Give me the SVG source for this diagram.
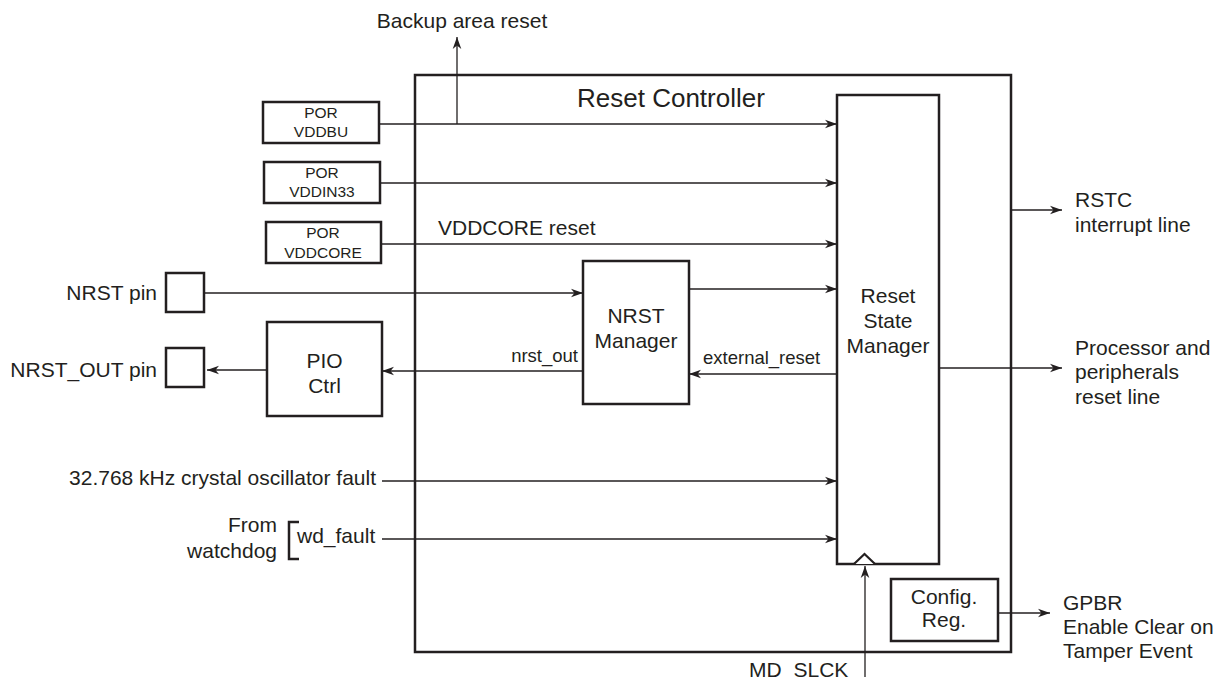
<svg xmlns="http://www.w3.org/2000/svg" width="1221" height="681" viewBox="0 0 1221 681">
<defs>
<marker id="ah" markerUnits="userSpaceOnUse" markerWidth="13" markerHeight="10" viewBox="0 0 13 10" refX="12" refY="5" orient="auto">
<path d="M0,0.7 L12,5 L0,9.3 L3.5,5 Z" fill="#231f20"/>
</marker>
</defs>
<style>
text{font-family:"Liberation Sans",Arial,sans-serif;fill:#231f20}
.t{font-size:21px}
.s{font-size:18.5px}
.p{font-size:15.5px}
.m{text-anchor:middle}
.e{text-anchor:end}
.box{fill:#fff;stroke:#231f20;stroke-width:2.5}
.c{fill:none;stroke:#231f20;stroke-width:1.3}
.a{marker-end:url(#ah)}
</style>
<rect width="1221" height="681" fill="#fff"/>

<g id="reset-controller">
<rect class="box" x="415" y="75" width="596" height="577" fill="none"/>
<text x="577" y="107" style="font-size:26px">Reset Controller</text>
</g>

<g id="connectors">
<line class="c a" x1="379" y1="124" x2="837" y2="124"/>
<line class="c a" x1="457" y1="124" x2="457" y2="37"/>
<line class="c a" x1="380" y1="183" x2="837" y2="183"/>
<line class="c a" x1="381" y1="244" x2="837" y2="244"/>
<line class="c a" x1="204" y1="293" x2="583" y2="293"/>
<line class="c a" x1="689" y1="289" x2="837" y2="289"/>
<line class="c a" x1="837" y1="374" x2="689" y2="374"/>
<line class="c a" x1="583" y1="371" x2="382" y2="371"/>
<line class="c a" x1="267" y1="370" x2="207" y2="370"/>
<line class="c a" x1="382" y1="481" x2="837" y2="481"/>
<line class="c a" x1="382" y1="539" x2="837" y2="539"/>
<line class="c a" x1="1011" y1="210" x2="1062" y2="210"/>
<line class="c a" x1="939" y1="368" x2="1062" y2="368"/>
<line class="c a" x1="998" y1="613" x2="1050" y2="613"/>
<line class="c a" x1="865" y1="677" x2="865" y2="566"/>
</g>

<g id="labels">
<text class="t m" x="462" y="28">Backup area reset</text>
<text class="t" x="438" y="235">VDDCORE reset</text>
<text class="s e" x="578" y="362">nrst_out</text>
<text class="s" x="703" y="364">external_reset</text>
<text class="t e" x="376" y="485">32.768 kHz crystal oscillator fault</text>
<text class="t e" x="277" y="532">From</text>
<text class="t e" x="277" y="558">watchdog</text>
<polyline points="299,522 289,522 289,559 299,559" fill="none" stroke="#231f20" stroke-width="2.5"/>
<text class="t" x="297" y="543">wd_fault</text>
<text class="t" x="1075" y="207">RSTC</text>
<text class="t" x="1075" y="232">interrupt line</text>
<text class="t" x="1075" y="355">Processor and</text>
<text class="t" x="1075" y="379">peripherals</text>
<text class="t" x="1075" y="404">reset line</text>
<text class="t" x="1063" y="610">GPBR</text>
<text class="t" x="1063" y="634">Enable Clear on</text>
<text class="t" x="1063" y="658">Tamper Event</text>
<text class="t" x="749" y="677" word-spacing="6">MD SLCK</text>
<text class="t e" x="157" y="300">NRST pin</text>
<text class="t e" x="157" y="377">NRST_OUT pin</text>
</g>

<g id="por-vddbu">
<rect class="box" x="263" y="102" width="116" height="41"/>
<text class="p m" x="321" y="118">POR</text>
<text class="p m" x="321" y="137">VDDBU</text>
</g>
<g id="por-vddin33">
<rect class="box" x="264" y="162" width="116" height="41"/>
<text class="p m" x="322" y="178">POR</text>
<text class="p m" x="322" y="197">VDDIN33</text>
</g>
<g id="por-vddcore">
<rect class="box" x="266" y="222" width="115" height="41"/>
<text class="p m" x="323" y="238">POR</text>
<text class="p m" x="323" y="258">VDDCORE</text>
</g>
<g id="nrst-pin">
<rect class="box" x="166" y="273" width="38" height="39"/>
</g>
<g id="nrst-out-pin">
<rect class="box" x="166" y="348" width="38" height="39"/>
</g>
<g id="pio-ctrl">
<rect class="box" x="267" y="322" width="115" height="94"/>
<text class="t m" x="324.5" y="368">PIO</text>
<text class="t m" x="324.5" y="393">Ctrl</text>
</g>
<g id="nrst-manager">
<rect class="box" x="583" y="261" width="106" height="143"/>
<text class="t m" x="636" y="323">NRST</text>
<text class="t m" x="636" y="348">Manager</text>
</g>
<g id="reset-state-manager">
<rect class="box" x="837" y="95" width="102" height="469"/>
<text class="t m" x="888" y="303">Reset</text>
<text class="t m" x="888" y="328">State</text>
<text class="t m" x="888" y="353">Manager</text>
<polyline points="854,564 864.5,554 875,564" fill="#fff" stroke="#231f20" stroke-width="2.2"/>
</g>
<g id="config-reg">
<rect class="box" x="891" y="579" width="107" height="62"/>
<text class="t m" x="944" y="604">Config.</text>
<text class="t m" x="944" y="627">Reg.</text>
</g>
</svg>
